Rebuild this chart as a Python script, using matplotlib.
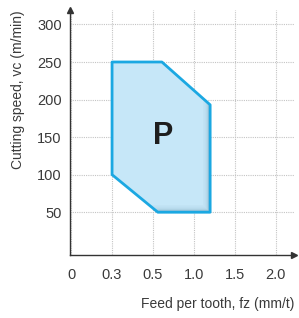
import matplotlib
matplotlib.use('Agg')
import matplotlib.pyplot as plt
import matplotlib.transforms as mtransforms
from matplotlib.patches import Polygon

plt.rcParams['font.family'] = ['Liberation Sans', 'DejaVu Sans']

# tick labels on the feed axis (evenly spaced, not to scale)
feed_labels = ['0', '0.3', '0.5', '1.0', '1.5', '2.0']
speed_ticks = [50, 100, 150, 200, 250, 300]

# outline of the "P" zone: feed positions (axis index) and cutting speeds
zone_x = [1.0, 2.22, 3.4, 3.4, 2.12, 1.0]
zone_y = [250, 250, 193, 50, 50, 100]
zone_label = 'P'

fig = plt.figure(figsize=(2.99, 3.18), dpi=100)
ax = fig.add_axes([0.234, 0.198, 0.749, 0.770])

xy = list(zip(zone_x, zone_y))

# darker base, then lighter copies nudged up-left -> soft inner shadow
base = Polygon(xy, closed=True, facecolor='#7fa9c0', edgecolor='none', zorder=2)
ax.add_patch(base)
for off in [1, 2, 3, 4, 5, 6]:
    tr = ax.transData + mtransforms.ScaledTranslation(-off / 100, off / 100, fig.dpi_scale_trans)
    p = Polygon(xy, closed=True, facecolor='#c6e7f8', edgecolor='none',
                alpha=0.4, transform=tr, zorder=3)
    p.set_clip_path(base)
    ax.add_patch(p)
tr = ax.transData + mtransforms.ScaledTranslation(-7 / 100, 7 / 100, fig.dpi_scale_trans)
top = Polygon(xy, closed=True, facecolor='#c6e7f8', edgecolor='none', transform=tr, zorder=3)
top.set_clip_path(base)
ax.add_patch(top)
ax.add_patch(Polygon(xy, closed=True, facecolor='none', edgecolor='#1ba8e2',
                     linewidth=2, joinstyle='round', zorder=4))

ax.text(2.24, 152, zone_label, fontsize=22, fontweight='bold', color='#1e1e1e',
        ha='center', va='center', zorder=5)

ax.set_xlim(-0.03, 5.45)
ax.set_ylim(-7, 319)
ax.set_xticks(range(len(feed_labels)))
ax.set_xticklabels(feed_labels)
ax.set_yticks(speed_ticks)
ax.tick_params(length=0, labelsize=10.5, colors='#3a3a3a')
ax.tick_params(axis='x', pad=9)
ax.tick_params(axis='y', pad=6)

ax.grid(True, color='#c4c4c4', linestyle=(0, (1, 1)), linewidth=0.8, zorder=0)
ax.set_axisbelow(True)

for s in ['top', 'right']:
    ax.spines[s].set_visible(False)
for s in ['left', 'bottom']:
    ax.spines[s].set_color('#333333')
    ax.spines[s].set_linewidth(1)

ax.plot(0, 1.0, marker='^', color='#333333', markersize=5, transform=ax.transAxes, clip_on=False)
ax.plot(1.0, 0, marker='>', color='#333333', markersize=5, transform=ax.transAxes, clip_on=False)

ax.set_ylabel('Cutting speed, vc (m/min)', fontsize=10, color='#3a3a3a', loc='top', labelpad=9)
ax.set_xlabel('Feed per tooth, fz (mm/t)', fontsize=10, color='#3a3a3a', loc='right', labelpad=11)

fig.savefig('out.png', dpi=100)
